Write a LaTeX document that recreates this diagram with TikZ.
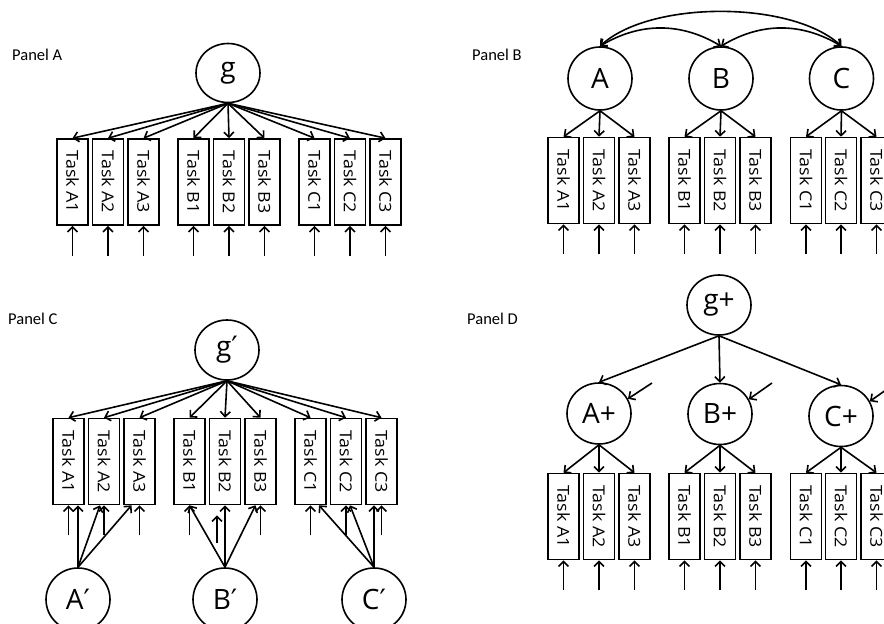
\documentclass[tikz,border=0pt]{standalone}
\usepackage{graphicx}
\usepackage{fontspec}
\setmainfont{Open Sans}
\newfontfamily\labelfont{Carlito}
\newfontfamily\taskfont[FakeStretch=1.08]{Open Sans}
\newfontfamily\primefont{DejaVu Sans}
\usetikzlibrary{arrows.meta,calc,shapes.geometric}

\newcommand{\prm}{{\primefont\char"2032}}

\tikzset{
  lat/.style={ellipse, draw, line width=1.6pt, minimum width=64pt,
    minimum height=61pt, inner sep=0pt, font=\fontsize{28}{32}\selectfont},
  task/.style={rectangle, draw, line width=1.6pt, minimum width=31pt,
    minimum height=86pt, inner sep=0pt, font=\taskfont\fontsize{16.5}{19}\selectfont},
  panel/.style={anchor=base west, inner sep=0pt,
    font=\labelfont\fontsize{16.5}{19}\selectfont},
  arr/.style={line width=1.6pt, -{Straight Barb[length=5pt,width=10pt]}},
  dbl/.style={line width=1.6pt,
    {Straight Barb[length=5pt,width=10pt]}-{Straight Barb[length=5pt,width=10pt]}}
}

\begin{document}
\begin{tikzpicture}[x=1pt,y=-1pt]
\useasboundingbox (0,0) rectangle (884,624);
\fill[white] (0,0) rectangle (884,624);
\clip (0,0) rectangle (884,624);

% ---------- Panel A: single general factor ----------
\node[panel] (pA) at (12,60) {Panel A};
\node[lat, minimum height=59pt] (ag) at (228,73) {g};
\foreach \n/\x in {A1/72.5,A2/108,A3/143.5,B1/193.5,B2/229,B3/264.5,C1/314.5,C2/350,C3/385.5}{
  \node[task] (a\n) at (\x,182) {\rotatebox{-90}{Task \n}};
  \draw[arr] (ag.south) -- (a\n.north);
  \coordinate (ea\n) at ($(a\n.south)+(0,30)$);
  \draw[arr] (ea\n) -- (a\n.south);
}

% ---------- Panel B: correlated group factors ----------
\node[panel] (pB) at (472,60) {Panel B};
\node[lat, minimum height=63pt] (bA) at (600,78.5) {A};
\node[lat, minimum height=63pt] (bB) at (721,78.5) {B};
\node[lat, minimum height=63pt] (bC) at (841.5,78.5) {C};
\foreach \n/\x/\f in {A1/563.5/A,A2/599/A,A3/634.5/A,B1/684.5/B,B2/720/B,B3/755.5/B,C1/806/C,C2/841/C,C3/876.5/C}{
  \node[task] (b\n) at (\x,180.5) {\rotatebox{-90}{Task \n}};
  \draw[arr] (b\f.south) -- (b\n.north);
  \coordinate (eb\n) at ($(b\n.south)+(0,30)$);
  \draw[arr] (eb\n) -- (b\n.south);
}
\draw[dbl] (bA.north) .. controls +(50,-46) and +(-50,-46) .. (bC.north);
\draw[dbl] (bA.north) .. controls +(40,-24) and +(-40,-24) .. (bB.north);
\draw[dbl] (bB.north) .. controls +(40,-24) and +(-40,-24) .. (bC.north);

% ---------- Panel C: general factor plus specific factors ----------
\node[panel] (pC) at (8,324) {Panel C};
\node[lat, minimum height=60pt] (cg) at (227,350) {g\prm};
\foreach \n/\x in {A1/68.5,A2/104,A3/139.5,B1/189.5,B2/225,B3/260.5,C1/310.5,C2/346,C3/381.5}{
  \node[task] (c\n) at (\x,461.5) {\rotatebox{-90}{Task \n}};
  \draw[arr] (cg.south) -- (c\n.north);
}
\foreach \n in {A1,A2,A3,B1,B3,C1,C2,C3}{
  \coordinate (ec\n) at ($(c\n.south)+(0,30)$);
  \draw[arr] (ec\n) -- (c\n.south);
}
\coordinate (ecB2) at ($(cB2.south)+(-8,38)$);
\draw[arr] (ecB2) -- ++(0,-28);

\node[lat, minimum height=63pt] (cA) at (78,599.5) {A\prm};
\node[lat, minimum height=63pt] (cB) at (225,599.5) {B\prm};
\node[lat, minimum height=63pt] (cC) at (374,599.5) {C\prm};
\draw[arr] (cA.north) -- ($(cA1.south)+(9.5,0)$);
\draw[arr] (cA.north) -- ($(cA2.south)+(-4,0)$);
\draw[arr] (cA.north) -- ($(cA3.south)+(-8,0)$);
\draw[arr] (cB.north) -- (cB1.south);
\draw[arr] (cB.north) -- (cB2.south);
\draw[arr] (cB.north) -- ($(cB3.south)+(-5,0)$);
\draw[arr] (cC.north) -- ($(cC1.south)+(8.5,0)$);
\draw[arr] (cC.north) -- ($(cC2.south)+(4,0)$);
\draw[arr] (cC.north) -- ($(cC3.south)+(-7.5,0)$);

% ---------- Panel D: higher-order factor ----------
\node[panel] (pD) at (467,324) {Panel D};
\node[lat, minimum height=60pt] (dg) at (719,305) {g+};
\node[lat] (dA) at (599,413.5) {A+};
\node[lat] (dB) at (720,414) {B+};
\node[lat] (dC) at (841,416) {C+};
\draw[arr] (dg.south) -- (dA.north);
\draw[arr] (dg.south) -- (dB.north);
\draw[arr] (dg.south) -- (dC.north);
\foreach \f/\sx/\sy in {A/652/383,B/772/383,C/893/385}{
  \coordinate (ed\f) at (\sx,\sy);
  \draw[arr] (ed\f) -- (d\f.27);
}
\foreach \n/\x/\f in {A1/563.5/A,A2/599/A,A3/634.5/A,B1/684.5/B,B2/720/B,B3/755.5/B,C1/806/C,C2/841/C,C3/876.5/C}{
  \node[task] (d\n) at (\x,516.5) {\rotatebox{-90}{Task \n}};
  \draw[arr] (d\f.south) -- (d\n.north);
  \coordinate (ed\n) at ($(d\n.south)+(0,30)$);
  \draw[arr] (ed\n) -- (d\n.south);
}
\end{tikzpicture}
\end{document}
